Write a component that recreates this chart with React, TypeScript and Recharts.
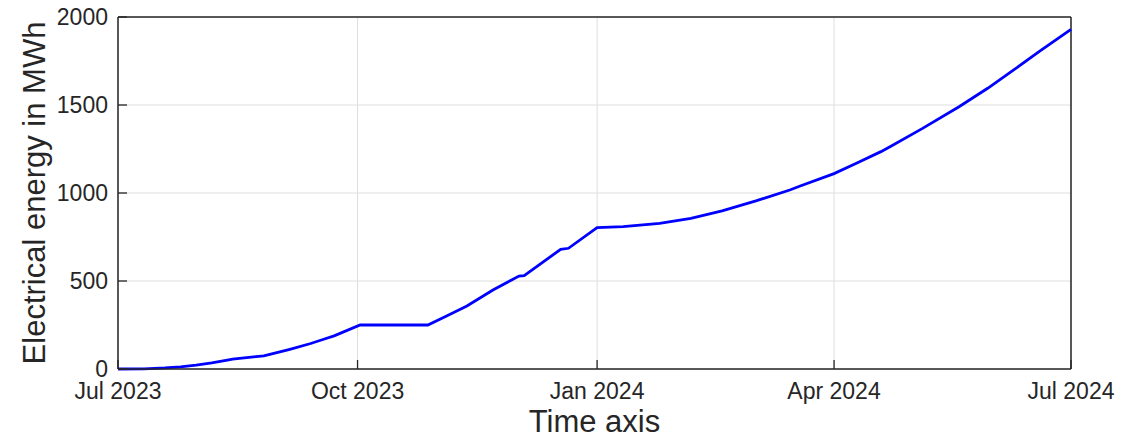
import { LineChart, Line, XAxis, YAxis, CartesianGrid, Label, ReferenceLine } from 'recharts';

// days since 1 Jul 2023 and cumulative energy (MWh)
const dayOffsets = [0, 10, 18, 24, 30, 36, 42, 44, 53, 56, 66, 74, 79, 83, 93, 119, 126, 134, 144, 154, 156, 170, 173, 184, 194, 208, 220, 232, 245, 258, 262, 275, 284, 293, 297, 309, 323, 334, 344, 354, 366];
const energyMWh = [0, 1, 6, 12, 22, 35, 51, 56, 70, 74, 112, 145, 169, 188, 250, 250, 300, 358, 449, 528, 530, 680, 686, 803, 809, 828, 856, 899, 955, 1017, 1040, 1110, 1172, 1235, 1267, 1367, 1490, 1595, 1699, 1806, 1930];

const tickDays = [0, 92, 184, 275, 366];
const tickLabels = ['Jul 2023', 'Oct 2023', 'Jan 2024', 'Apr 2024', 'Jul 2024'];
const yTicks = [0, 500, 1000, 1500, 2000];

const data = dayOffsets.map((d, i) => ({ day: d, energy: energyMWh[i] }));

const FONT = '"Liberation Sans", Arial, Helvetica, sans-serif';
const INK = '#262626';
const TICK_LEN = 9;

const BottomTick = (props: any) => {
    const { x, y, payload } = props;
    const axisY = y - 8;
    const label = tickLabels[tickDays.indexOf(payload.value)];
    return (
        <g>
            <line x1={x} x2={x} y1={axisY} y2={axisY - TICK_LEN} stroke={INK} strokeWidth={1.3} />
            <text x={x} y={axisY + 30} textAnchor="middle" fill={INK} fontSize={23} fontFamily={FONT}>
                {label}
            </text>
        </g>
    );
};

const LeftTick = (props: any) => {
    const { x, y, payload } = props;
    const axisX = x + 8;
    return (
        <g>
            <line x1={axisX} x2={axisX + TICK_LEN} y1={y} y2={y} stroke={INK} strokeWidth={1.3} />
            <text x={axisX - 10} y={y + 8} textAnchor="end" fill={INK} fontSize={23} fontFamily={FONT}>
                {payload.value}
            </text>
        </g>
    );
};

const TopTick = (props: any) => {
    const { x, y } = props;
    return <line x1={x} x2={x} y1={y} y2={y + TICK_LEN} stroke={INK} strokeWidth={1.3} />;
};

const RightTick = (props: any) => {
    const { x, y } = props;
    return <line x1={x} x2={x - TICK_LEN} y1={y} y2={y} stroke={INK} strokeWidth={1.3} />;
};

export default function App() {
    return (
        <div style={{ position: 'absolute', left: 0, top: 0, width: 1136, height: 439, background: '#fff', fontFamily: FONT }}>
            <LineChart width={1136} height={439} data={data} margin={{ top: 17, right: 65, left: 0, bottom: 0 }}>
                <CartesianGrid stroke="#dedede" strokeWidth={1} />
                <XAxis
                    dataKey="day"
                    type="number"
                    domain={[0, 366]}
                    ticks={tickDays}
                    interval={0}
                    height={70}
                    tickSize={0}
                    tickMargin={8}
                    tick={<BottomTick />}
                    axisLine={{ stroke: INK, strokeWidth: 1.5 }}
                >
                    <Label
                        content={({ viewBox }: any) => (
                            <text
                                x={viewBox.x + viewBox.width / 2}
                                y={432}
                                textAnchor="middle"
                                fill={INK}
                                fontSize={31}
                                fontFamily={FONT}
                            >
                                Time axis
                            </text>
                        )}
                    />
                </XAxis>
                <XAxis
                    xAxisId="top"
                    orientation="top"
                    dataKey="day"
                    type="number"
                    domain={[0, 366]}
                    ticks={tickDays}
                    interval={0}
                    height={0}
                    tickSize={0}
                    tickMargin={0}
                    tick={<TopTick />}
                    axisLine={{ stroke: INK, strokeWidth: 1.5 }}
                />
                <YAxis
                    type="number"
                    domain={[0, 2000]}
                    ticks={yTicks}
                    interval={0}
                    width={118}
                    tickSize={0}
                    tickMargin={8}
                    tick={<LeftTick />}
                    axisLine={{ stroke: INK, strokeWidth: 1.5 }}
                >
                    <Label
                        content={({ viewBox }: any) => {
                            const cx = 34;
                            const cy = viewBox.y + viewBox.height / 2;
                            return (
                                <text
                                    x={cx}
                                    y={cy}
                                    transform={`rotate(-90 ${cx} ${cy})`}
                                    textAnchor="middle"
                                    dominantBaseline="central"
                                    fill={INK}
                                    fontSize={31}
                                    fontFamily={FONT}
                                >
                                    Electrical energy in MWh
                                </text>
                            );
                        }}
                    />
                </YAxis>
                <YAxis
                    yAxisId="right"
                    orientation="right"
                    type="number"
                    domain={[0, 2000]}
                    ticks={yTicks}
                    interval={0}
                    width={0}
                    tickSize={0}
                    tickMargin={0}
                    tick={<RightTick />}
                    axisLine={{ stroke: INK, strokeWidth: 1.5 }}
                />
                <ReferenceLine y={2000} stroke={INK} strokeWidth={1.5} ifOverflow="visible" />
                <ReferenceLine x={366} stroke={INK} strokeWidth={1.5} ifOverflow="visible" />
                <Line
                    type="linear"
                    dataKey="energy"
                    stroke="#0000ff"
                    strokeWidth={2.8}
                    dot={false}
                    isAnimationActive={false}
                />
            </LineChart>
        </div>
    );
}
